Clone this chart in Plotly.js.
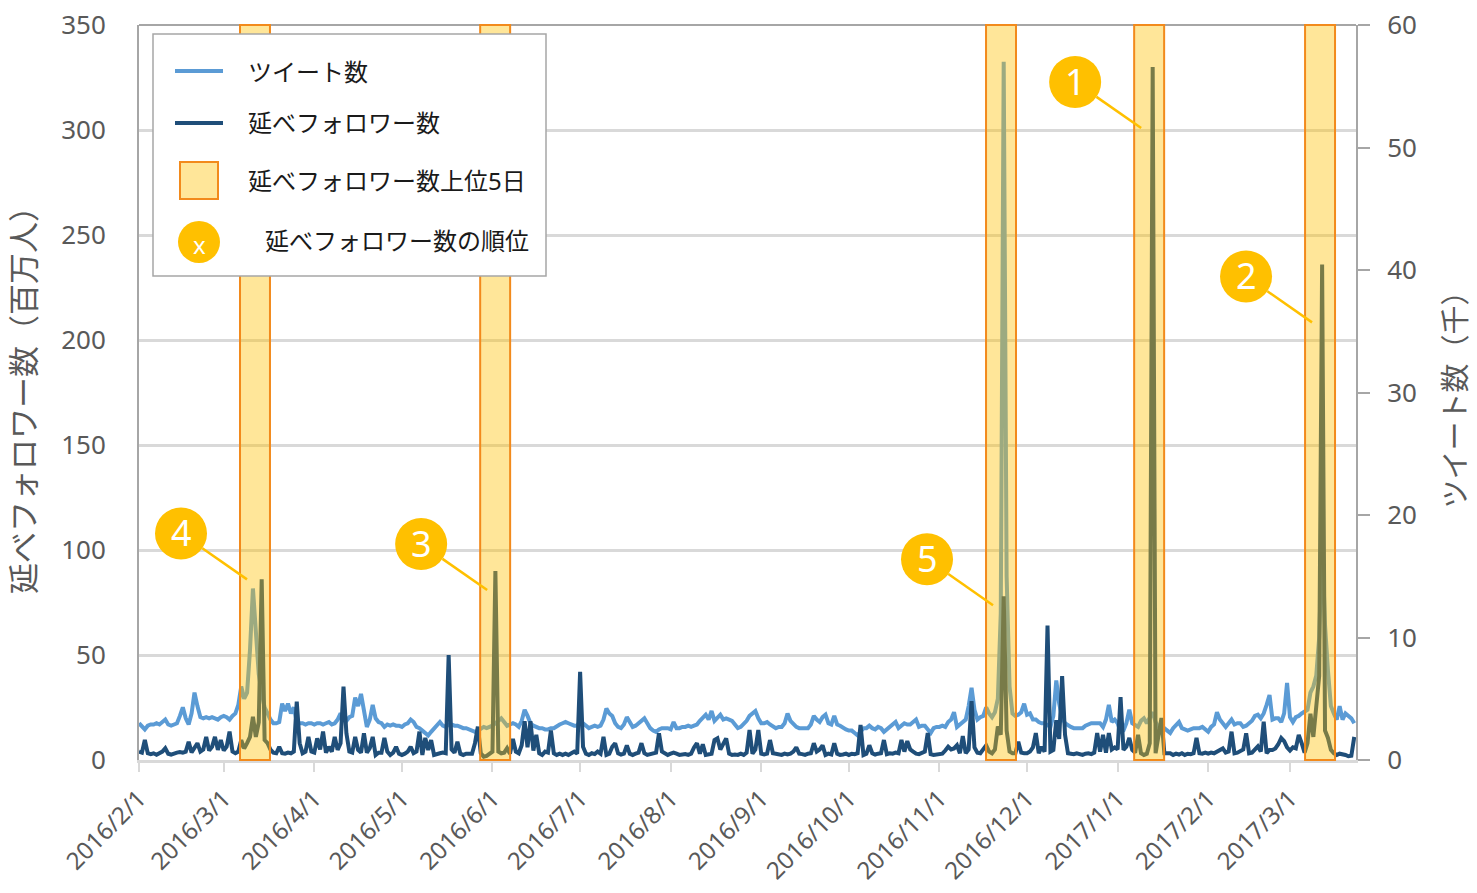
<!DOCTYPE html>
<html>
<head>
<meta charset="utf-8">
<script src="https://cdn.plot.ly/plotly-3.0.1.min.js"></script>
<style>
html, body { margin: 0; padding: 0; background: #ffffff; }
#chart { width: 1477px; height: 893px; }
</style>
</head>
<body>
<div id="chart"></div>
<script>
// ---------------- DATA ----------------
const startDate = '2016-02-01';   // first day of the daily series

// ツイート数 (千) — daily, 2016/2/1 .. 2017/3/23
const tweetsK = [
  // 2016 Feb
  3.0,2.8,2.5,2.8,2.9,2.9,3.0,2.9,3.1,3.3, 2.9,2.8,2.9,3.0,3.6,4.3,3.4,2.9,3.8,5.5, 4.4,3.5,3.4,3.5,3.4,3.5,3.4,3.3,3.5,
  // Mar
  3.6,3.5,3.3,3.6,3.8,4.5,6.0,5.0,5.5,9.0, 14.0,10.5,7.0,5.5,4.3,3.8,3.3,3.0,3.0,3.1, 4.6,4.0,4.6,3.8,4.3,3.1,3.0,3.0,2.9,3.0, 3.0,
  // Apr
  2.9,3.0,3.0,2.9,3.0,3.1,2.9,3.0,3.3,3.8, 3.4,3.2,3.5,3.6,5.1,4.4,5.4,3.8,2.7,3.3, 4.5,3.4,3.1,3.0,2.7,2.9,2.8,2.9,2.8,2.8,
  // May
  2.7,2.9,3.0,3.3,3.1,2.7,2.6,2.4,2.2,2.0, 2.3,2.6,2.8,3.1,2.8,2.7,2.9,2.9,2.8,2.8, 2.7,2.6,2.6,2.5,2.4,2.3,2.4,2.6,2.7,2.6, 2.7,
  // Jun
  2.8,3.0,3.2,3.4,3.1,2.8,2.9,3.0,2.9,2.7, 3.2,4.1,3.6,3.0,2.8,2.7,2.6,2.6,2.5,2.5, 2.6,2.6,2.8,2.9,3.0,3.1,3.0,2.9,2.8,2.8,
  // Jul
  3.2,3.0,2.8,2.6,2.7,2.8,2.7,2.8,3.3,4.2, 3.8,3.6,3.0,2.7,2.6,2.9,3.5,3.1,2.7,2.8, 3.0,3.2,3.4,3.0,2.6,2.4,2.3,2.5,2.6,2.6, 2.6,
  // Aug
  2.5,3.1,2.6,2.6,2.7,2.7,2.8,2.7,2.8,2.9, 3.2,3.5,3.7,3.3,4.0,3.2,3.4,3.7,3.3,3.4, 3.3,3.2,2.9,2.6,2.7,2.9,3.2,3.6,3.8,4.0, 3.4,
  // Sep
  3.0,3.0,3.1,2.9,2.7,2.6,2.7,2.7,3.0,3.8, 3.2,2.9,2.7,2.6,2.6,2.6,2.6,2.9,3.6,3.3, 3.1,3.5,3.7,3.0,2.9,3.6,2.9,2.8,2.6,2.5,
  // Oct
  2.4,2.4,2.2,2.0,2.3,2.6,2.6,2.8,2.6,2.5, 2.7,2.6,2.3,2.5,2.7,2.9,3.1,2.6,2.8,3.0, 2.9,2.9,3.1,3.3,2.7,2.8,2.8,2.5,2.2,2.6, 2.7,
  // Nov
  2.7,2.8,2.7,3.1,3.3,3.9,2.7,2.9,3.0,3.3, 4.4,5.9,4.1,3.3,3.5,3.6,4.3,3.8,3.5,3.9, 5.0,12.0,57.0,15.0,6.0,3.8,3.6,3.7,3.9,4.6,
  // Dec
  3.7,3.8,3.3,3.3,3.1,3.0,3.0,2.8,2.7,3.6, 6.5,4.6,3.5,3.0,2.8,2.7,2.6,2.6,2.6,2.6, 2.8,2.9,3.0,3.0,3.0,3.0,2.7,3.3,4.5,3.1, 3.3,
  // 2017 Jan
  3.0,2.3,2.4,3.0,4.1,3.0,2.8,2.7,3.2,3.4, 3.0,3.5,3.9,3.1,2.7,2.6,2.6,2.4,2.2,2.6, 2.9,3.1,2.6,2.5,2.4,2.5,2.6,2.6,2.6,2.7, 2.5,
  // Feb
  2.3,2.7,2.9,3.9,3.3,3.0,2.7,3.0,3.3,2.9, 3.0,3.0,2.7,2.8,3.0,3.2,3.6,3.7,3.4,3.8, 4.5,5.3,3.3,3.4,3.4,3.1,3.8,6.3,
  // Mar
  3.5,3.1,3.5,3.6,3.8,4.0,4.1,5.5,6.0,6.9, 10.0,17.8,11.0,7.3,4.4,3.8,3.3,4.4,3.3,3.8, 3.6,3.4,3.0
];

// 延べフォロワー数 (百万人) — daily, same dates
const followersM = [
  // 2016 Feb
  4.0,3.5,9.5,3.2,2.8,3.2,2.5,3.5,4.0,5.6, 3.0,2.6,3.2,3.5,3.8,3.5,4.0,8.7,3.6,5.6, 8.0,4.0,5.0,11.0,4.5,6.3,11.0,4.8,9.5,
  // Mar
  4.5,6.3,13.5,4.0,3.2,4.0,9.5,5.5,8.0,11.0, 20.6,11.0,18.0,86.0,9.5,8.0,5.0,3.5,3.2,6.3, 3.2,3.0,3.5,3.2,4.0,27.8,8.0,3.2,4.0,11.0, 4.0,
  // Apr
  3.5,10.3,5.0,13.5,3.5,6.3,4.0,11.0,4.8,8.0, 35.0,12.7,4.0,3.5,11.0,4.8,3.5,12.7,3.5,5.6, 11.0,2.4,3.5,3.5,10.5,4.0,2.4,3.5,6.3,3.0,
  // May
  2.4,3.0,4.0,6.3,3.2,4.0,13.5,2.4,10.5,4.8, 9.5,2.4,3.0,3.2,3.5,3.2,50.0,5.0,3.5,8.7, 3.0,2.4,3.0,3.2,3.0,8.0,15.9,3.2,1.6,2.0, 3.2,
  // Jun
  4.0,90.0,4.0,3.2,3.5,5.6,3.0,10.0,4.0,3.2, 7.0,18.5,6.0,18.5,4.5,12.0,3.2,2.4,4.0,3.5, 14.0,3.2,2.4,3.0,2.4,3.0,2.4,3.2,4.0,3.0,
  // Jul
  42.0,6.3,3.0,2.4,3.2,2.8,4.0,3.0,11.0,2.4, 3.0,6.3,8.0,3.2,2.6,3.0,7.0,3.0,2.4,3.0, 3.5,8.0,3.2,2.4,2.8,3.0,3.5,12.7,4.0,3.2, 2.4,
  // Aug
  3.0,3.5,3.0,2.4,2.6,2.8,2.4,3.0,6.0,8.0, 3.0,7.5,2.4,2.6,3.0,9.5,10.3,5.0,8.0,10.3, 3.0,2.4,2.6,2.4,3.0,2.4,3.5,14.3,3.0,5.0, 14.3,
  // Sep
  3.0,2.6,3.0,9.5,3.2,3.0,2.8,2.4,3.0,2.6, 3.0,4.0,6.0,3.0,2.8,2.4,3.0,3.2,8.0,4.0, 5.0,7.0,2.4,3.0,2.6,8.0,3.0,2.4,2.6,3.0,
  // Oct
  2.4,3.0,2.8,3.2,16.7,2.4,3.0,7.0,3.2,2.6, 3.0,3.2,9.5,2.8,3.2,3.0,3.5,3.2,9.5,4.0, 9.0,5.0,4.0,3.0,2.8,3.2,4.0,12.8,2.8,2.4, 2.6,
  // Nov
  3.2,3.0,4.5,6.3,5.0,5.5,7.0,3.2,11.4,3.2, 5.0,28.0,6.0,3.5,3.2,5.0,7.0,4.0,3.2,5.0, 16.0,12.0,78.0,14.0,4.0,3.2,3.2,8.7,3.5,3.2,
  // Dec
  3.2,4.0,6.0,12.8,3.2,6.3,4.0,64.0,4.0,4.8, 19.0,10.0,40.0,12.0,3.2,3.0,2.8,3.2,3.0,2.4, 3.0,3.2,2.8,3.5,12.8,4.0,12.0,3.5,12.8,5.0, 6.0,
  // 2017 Jan
  5.0,30.0,4.8,6.3,10.5,4.8,3.5,12.0,3.2,2.4, 3.0,8.0,330.0,3.2,12.0,20.0,3.2,3.0,3.2,2.4, 3.0,2.6,3.2,2.4,3.0,2.8,3.2,10.5,3.2,3.0, 3.5,
  // Feb
  3.0,3.5,3.2,4.0,4.8,5.5,3.5,4.0,13.5,3.2, 3.5,4.0,5.0,12.7,3.2,3.5,5.0,6.5,4.0,18.3, 3.2,4.8,4.8,5.5,7.5,10.5,9.0,6.0,
  // Mar
  4.5,6.0,5.5,12.0,8.0,3.5,8.0,22.0,11.0,25.0, 40.0,236.0,14.0,10.5,4.8,3.2,2.4,3.0,2.8,2.4, 1.8,2.0,11.0
];

// 延べフォロワー数上位5日 (centre of each highlighted band)
const top5Dates = ['2016-03-11 17:00', '2016-06-01 22:00', '2016-11-22 02:00', '2017-01-11 19:00', '2017-03-11 07:00'];

// Texts
const seriesNames = ['ツイート数', '延べフォロワー数', '延べフォロワー数上位5日', '延べフォロワー数の順位'];
const legendRankSymbol = 'x';
const yLeftTitle = '延べフォロワー数（百万人）';
const yRightTitle = 'ツイート数（千）';

// ---------------- STYLE / LAYOUT ----------------
const W = 1477, H = 893;
const L = 139, R = 1356, T = 25, B = 760;       // plot area in px
const DAY = 86400000;
const FONT = "'Noto Sans', 'Noto Sans CJK JP', sans-serif";
const C_TWEET = '#5B9BD5';
const C_FOLL = '#1F4E79';
const C_GOLD = '#FFC000';
const C_ORANGE = '#F28A1C';
const C_BAND = 'rgba(255,192,0,0.4)';
const BAND_HALF_DAYS = 5.13;
const CALLOUT_R = 26;
const CALLOUT_VEC = [-66, 46];            // from leader end to circle centre (px, up positive)
const CALLOUT_XSHIFT = -8;                // leader end left of band centre
const calloutDrop = [0, 19, 9, 61, 58];   // px below each band's peak where leader ends (style)

function toMs(s) { const p = s.split(' '); return Date.parse(p[0] + 'T' + (p[1] || '00:00') + ':00Z'); }
function fmt(ms) { return new Date(ms).toISOString().slice(0, 19).replace('T', ' '); }
const t0 = toMs(startDate);
const dates = tweetsK.map((_, i) => fmt(t0 + i * DAY));

const fx = px => (px - L) / (R - L);
const fy = py => (B - py) / (B - T);

const traces = [
  { x: dates, y: tweetsK, type: 'scatter', mode: 'lines', yaxis: 'y', name: seriesNames[0],
    line: { color: C_TWEET, width: 4 }, hoverinfo: 'skip' },
  { x: dates, y: followersM, type: 'scatter', mode: 'lines', yaxis: 'y2', name: seriesNames[1],
    line: { color: C_FOLL, width: 4 }, hoverinfo: 'skip' }
];

const shapes = [];
const annotations = [];

// top frame line
shapes.push({ type: 'line', xref: 'paper', yref: 'paper', x0: 0, x1: 1, y0: 1, y1: 1,
  line: { color: '#A6A6A6', width: 2 }, layer: 'above' });

// bands
top5Dates.forEach(d => {
  const c = toMs(d);
  shapes.push({ type: 'rect', xref: 'x', yref: 'paper',
    x0: fmt(c - BAND_HALF_DAYS * DAY), x1: fmt(c + BAND_HALF_DAYS * DAY), y0: 0, y1: 1,
    fillcolor: C_BAND, line: { color: C_ORANGE, width: 2 }, layer: 'above' });
});

// peaks inside each band, and their ranks (derived from the data)
const peaks = top5Dates.map(d => {
  const c = toMs(d);
  let best = -Infinity;
  followersM.forEach((v, i) => {
    const t = t0 + i * DAY;
    if (Math.abs(t - c) <= BAND_HALF_DAYS * DAY && v > best) best = v;
  });
  return best;
});
const order = peaks.map((v, i) => i).sort((a, b) => peaks[b] - peaks[a]);
const ranks = new Array(peaks.length);
order.forEach((idx, r) => { ranks[idx] = r + 1; });

top5Dates.forEach((d, i) => {
  const ex = CALLOUT_XSHIFT, ey = -calloutDrop[i];
  const cx = ex + CALLOUT_VEC[0], cy = ey + CALLOUT_VEC[1];
  const len = Math.hypot(CALLOUT_VEC[0], CALLOUT_VEC[1]);
  const k = (len - CALLOUT_R) / len;
  shapes.push({ type: 'line', xref: 'x', yref: 'y2', xsizemode: 'pixel', ysizemode: 'pixel',
    xanchor: d, yanchor: peaks[i],
    x0: ex, y0: ey, x1: ex + CALLOUT_VEC[0] * k, y1: ey + CALLOUT_VEC[1] * k,
    line: { color: C_GOLD, width: 2.5 }, layer: 'above' });
  shapes.push({ type: 'circle', xref: 'x', yref: 'y2', xsizemode: 'pixel', ysizemode: 'pixel',
    xanchor: d, yanchor: peaks[i],
    x0: cx - CALLOUT_R, x1: cx + CALLOUT_R, y0: cy - CALLOUT_R, y1: cy + CALLOUT_R,
    fillcolor: C_GOLD, line: { width: 0 }, layer: 'above' });
  annotations.push({ xref: 'x', yref: 'y2', x: d, y: peaks[i], xshift: cx, yshift: cy + 1,
    text: String(ranks[i]), showarrow: false, xanchor: 'center', yanchor: 'middle',
    font: { family: FONT, size: 36, color: '#ffffff' } });
});

// manual legend
shapes.push({ type: 'rect', xref: 'paper', yref: 'paper', x0: fx(153), x1: fx(546), y0: fy(276), y1: fy(34),
  fillcolor: '#ffffff', line: { color: '#A6A6A6', width: 1.5 }, layer: 'above' });
shapes.push({ type: 'line', xref: 'paper', yref: 'paper', x0: fx(175), x1: fx(223), y0: fy(71), y1: fy(71),
  line: { color: C_TWEET, width: 4 }, layer: 'above' });
shapes.push({ type: 'line', xref: 'paper', yref: 'paper', x0: fx(175), x1: fx(223), y0: fy(123), y1: fy(123),
  line: { color: C_FOLL, width: 4 }, layer: 'above' });
shapes.push({ type: 'rect', xref: 'paper', yref: 'paper', x0: fx(180), x1: fx(218), y0: fy(199), y1: fy(162),
  fillcolor: C_BAND, line: { color: C_ORANGE, width: 2 }, layer: 'above' });
shapes.push({ type: 'circle', xref: 'paper', yref: 'paper', x0: fx(178), x1: fx(220), y0: fy(263), y1: fy(221),
  fillcolor: C_GOLD, line: { width: 0 }, layer: 'above' });
annotations.push({ xref: 'paper', yref: 'paper', x: fx(199), y: fy(244), text: legendRankSymbol, showarrow: false,
  xanchor: 'center', yanchor: 'middle', font: { family: FONT, size: 24, color: '#ffffff' } });
const legTextPos = [[246, 71], [246, 123], [246, 180], [263, 240]];
seriesNames.forEach((s, i) => {
  annotations.push({ xref: 'paper', yref: 'paper', x: fx(legTextPos[i][0]), y: fy(legTextPos[i][1]),
    text: s, showarrow: false, xanchor: 'left', yanchor: 'middle',
    font: { family: FONT, size: 24, color: '#1a1a1a' } });
});

const layout = {
  width: W, height: H,
  margin: { l: L, r: W - R, t: T, b: H - B, pad: 0 },
  paper_bgcolor: '#ffffff', plot_bgcolor: '#ffffff',
  showlegend: false,
  font: { family: FONT, color: '#595959' },
  xaxis: {
    type: 'date', range: [fmt(t0), fmt(t0 + 416.6 * DAY)],
    tick0: startDate, dtick: 'M1', tickformat: '%Y/%-m/%-d', tickangle: -45,
    ticks: 'outside', ticklen: 9, tickwidth: 2, tickcolor: '#D9D9D9',
    showline: true, linecolor: '#D9D9D9', linewidth: 3, showgrid: false, zeroline: false,
    tickfont: { family: FONT, size: 24, color: '#595959' }, ticklabelstandoff: 3
  },
  yaxis: {
    side: 'right', range: [0, 60], dtick: 10, showgrid: false, zeroline: false,
    showline: true, linecolor: '#A6A6A6', linewidth: 2,
    ticks: 'outside', ticklen: 12, tickwidth: 2, tickcolor: '#A6A6A6',
    tickfont: { family: FONT, size: 26, color: '#595959' }, ticklabelstandoff: 12,
    title: { text: yRightTitle, font: { family: FONT, size: 29, color: '#595959' }, standoff: 30 }
  },
  yaxis2: {
    overlaying: 'y', side: 'left', range: [0, 350], dtick: 50,
    showgrid: true, gridcolor: '#D9D9D9', gridwidth: 3, zeroline: false,
    showline: true, linecolor: '#A6A6A6', linewidth: 2, ticks: '',
    tickfont: { family: FONT, size: 26, color: '#595959' }, ticklabelstandoff: 26,
    title: { text: yLeftTitle, font: { family: FONT, size: 31, color: '#595959' }, standoff: 16 }
  },
  shapes: shapes,
  annotations: annotations
};

Plotly.newPlot('chart', traces, layout, { displayModeBar: false, staticPlot: true });
</script>
</body>
</html>
